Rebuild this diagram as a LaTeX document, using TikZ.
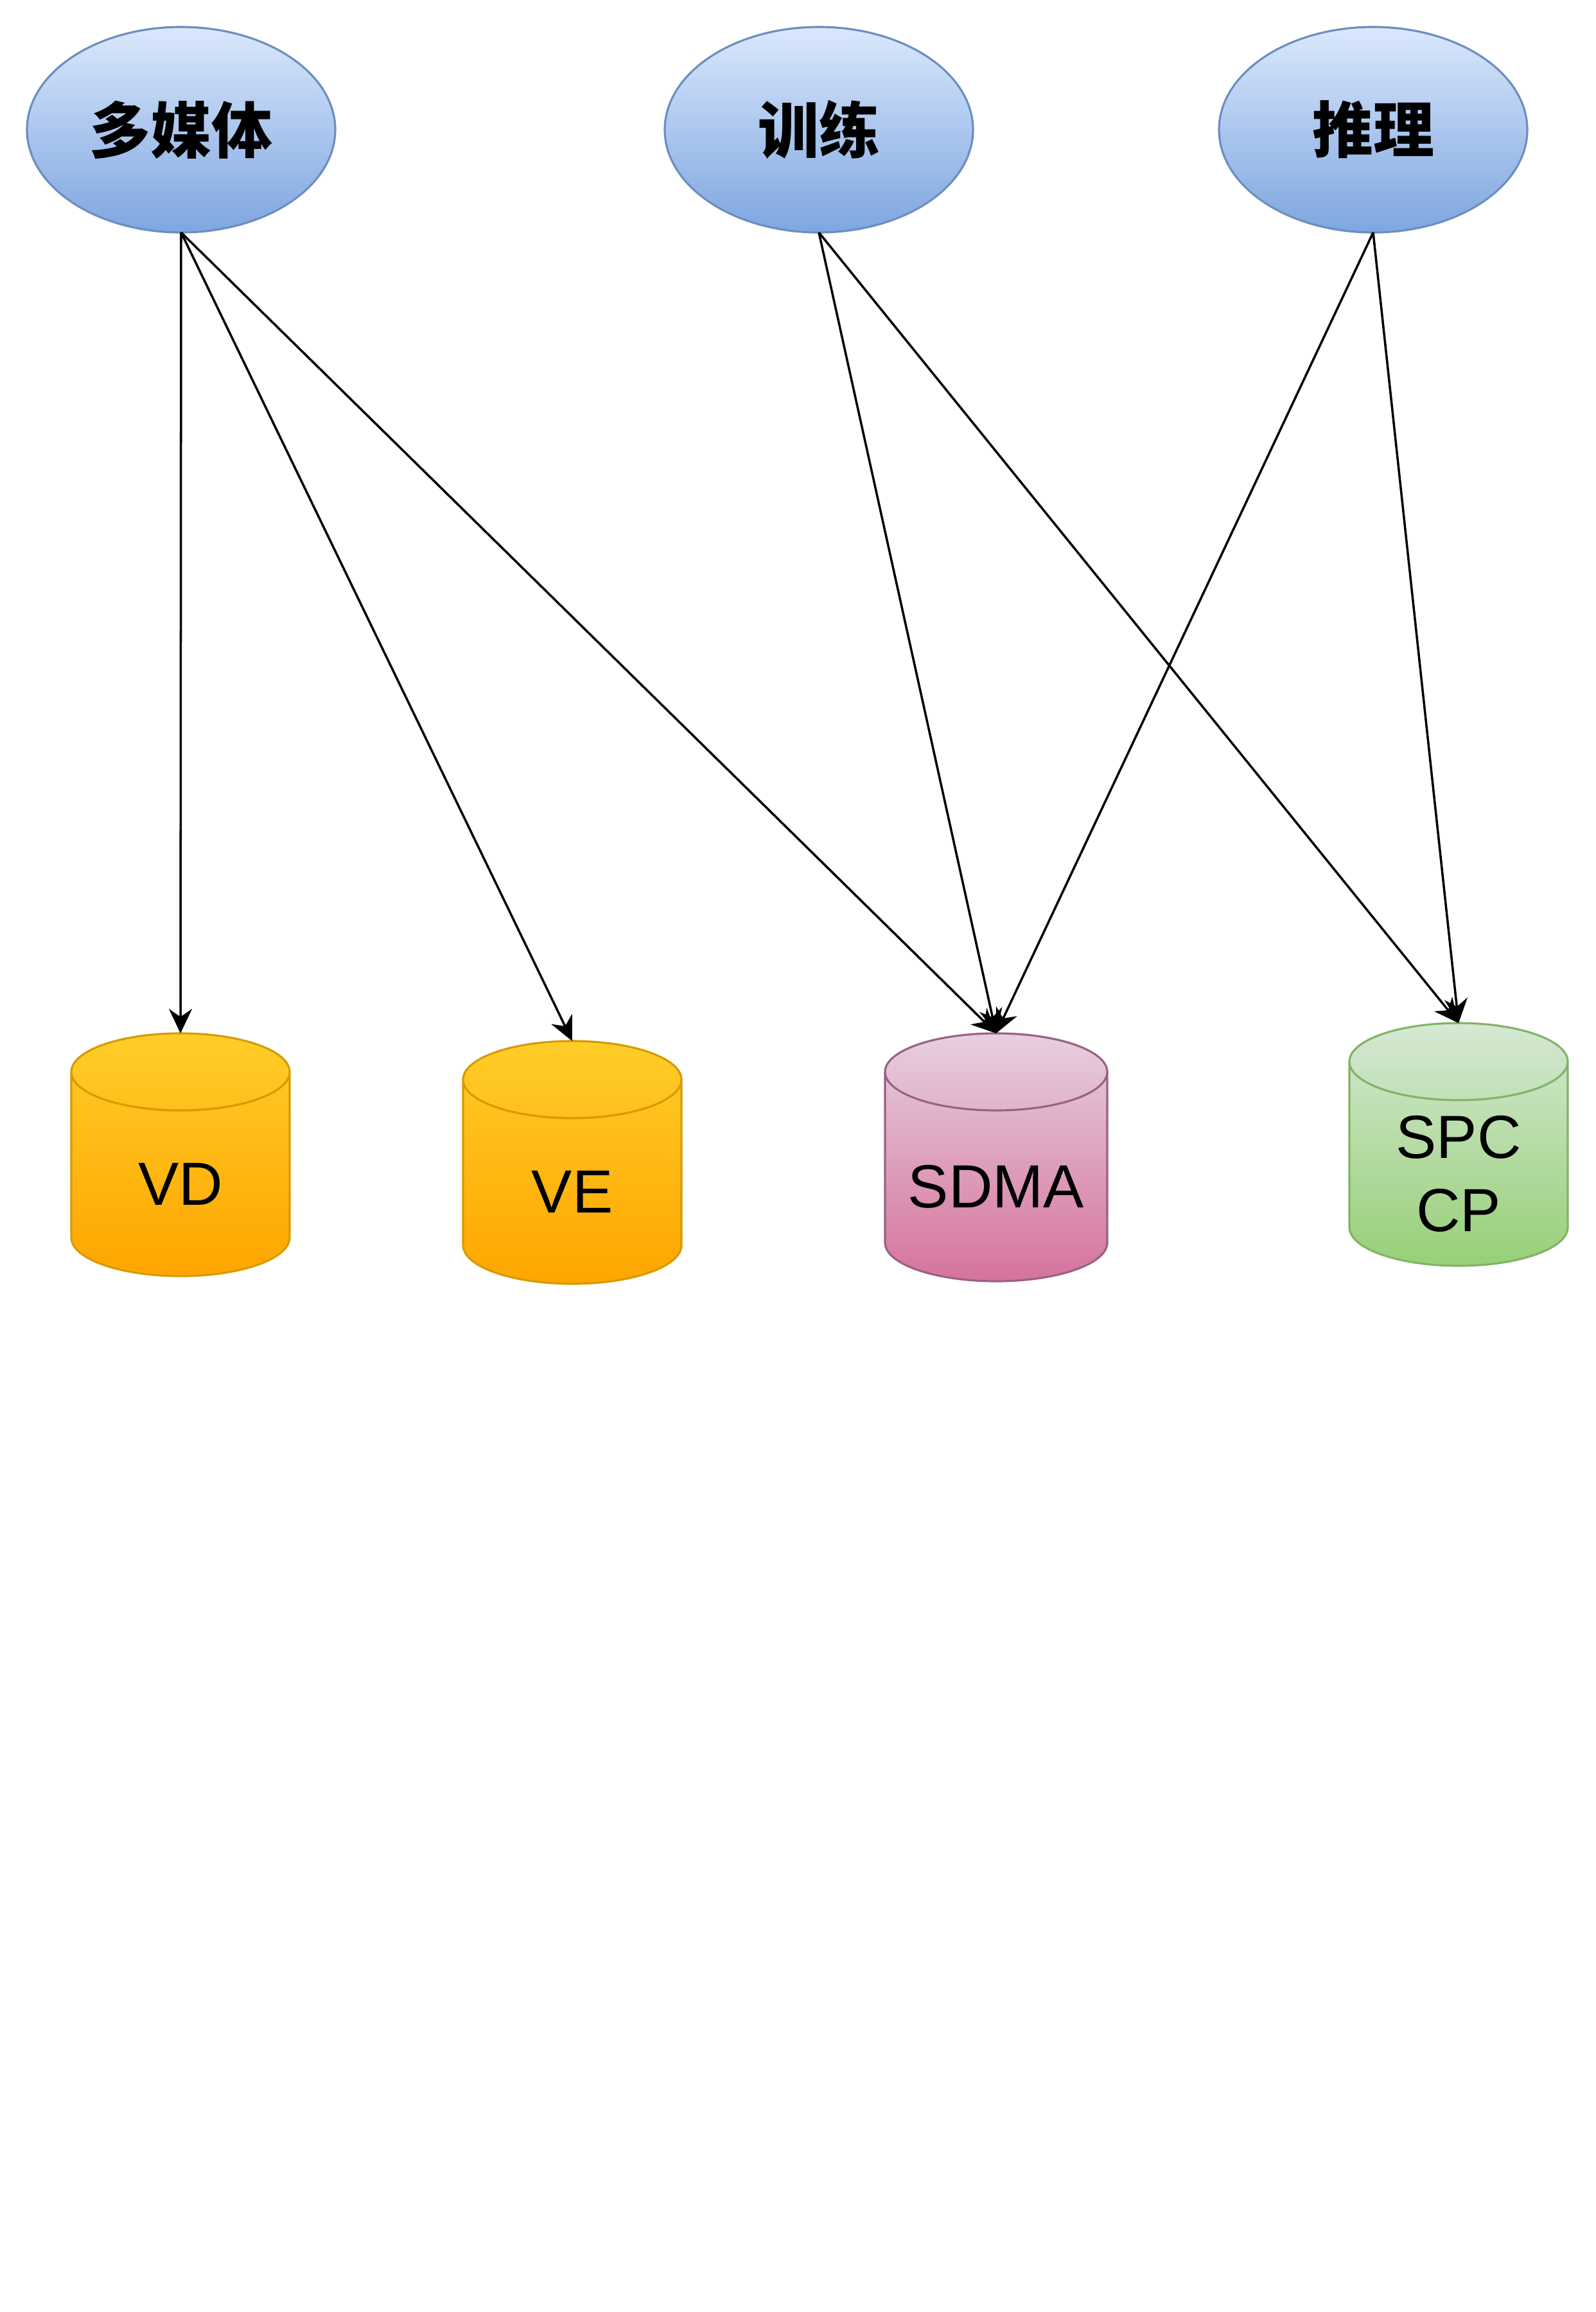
\documentclass[tikz,border=0pt]{standalone}
\usepackage{fontspec}
\setmainfont{Liberation Sans}
\newfontfamily\cjk{Noto Sans CJK SC}
\usepackage{xcolor}
\usepackage{tikz}
\usetikzlibrary{arrows.meta,shapes.geometric}
\definecolor{blueTop}{HTML}{DAE8FC}
\definecolor{blueBot}{HTML}{7EA6E0}
\definecolor{blueLine}{HTML}{6C8EBF}
\definecolor{orangeTop}{HTML}{FFCD28}
\definecolor{orangeBot}{HTML}{FFA500}
\definecolor{orangeLine}{HTML}{D79B00}
\definecolor{pinkTop}{HTML}{E6D0DE}
\definecolor{pinkBot}{HTML}{D5739D}
\definecolor{pinkLine}{HTML}{996185}
\definecolor{greenTop}{HTML}{D5E8D4}
\definecolor{greenBot}{HTML}{97D077}
\definecolor{greenLine}{HTML}{82B366}

% store drum: name, centre, x radius, height, colour, label
\newcommand{\dbstore}[6]{%
  \node[storebox,minimum width=2*#3cm,minimum height=#4cm] (#1) at #2 {};
  \fill[top color=#5Top,bottom color=#5Bot]
    ([yshift=-6mm]#1.north west) arc[start angle=180,end angle=0,x radius=#3,y radius=0.6]
    -- ([yshift=6mm]#1.south east) arc[start angle=0,end angle=-180,x radius=#3,y radius=0.6]
    -- cycle;
  \draw[#5Line,line width=0.9pt]
    ([yshift=-6mm]#1.north west) arc[start angle=180,end angle=0,x radius=#3,y radius=0.6]
    -- ([yshift=6mm]#1.south east) arc[start angle=0,end angle=-180,x radius=#3,y radius=0.6]
    -- cycle
    ([yshift=-6mm]#1.north west) arc[start angle=180,end angle=360,x radius=#3,y radius=0.6];
  \node[storetext] (#1-label) at ([yshift=-4.6mm]#1.center) {#6};
}

\begin{document}
\begin{tikzpicture}[
          task/.style={ellipse,draw=blueLine,line width=0.9pt,
                      top color=blueTop,bottom color=blueBot,
                      minimum width=4.8cm,minimum height=3.2cm,inner sep=0pt,
                      outer sep=0pt,font=\cjk\bfseries\fontsize{27}{32}\selectfont},
          storebox/.style={inner sep=0pt,outer sep=0pt},
          storetext/.style={align=center,inner sep=0pt,
                      font=\fontsize{27}{32.5}\selectfont},
          arr/.style={-{Stealth[length=0.38cm,width=0.36cm]},line width=1pt},
      ]
        \useasboundingbox (0,0) rectangle (24.84,-36);

        \node[task] (media) at (2.82,-2.02) {多媒体};
        \node[task] (train) at (12.75,-2.02) {训练};
        \node[task] (infer) at (21.38,-2.02) {推理};

        \dbstore{vd}{(2.81,-17.98)}{1.70}{3.78}{orange}{VD}
        \dbstore{ve}{(8.91,-18.10)}{1.70}{3.78}{orange}{VE}
        \dbstore{sdma}{(15.51,-18.02)}{1.73}{3.86}{pink}{SDMA}
        \dbstore{spc}{(22.71,-17.82)}{1.70}{3.78}{green}{SPC\\CP}

        \draw[arr] (media.south) -- (vd.north);
        \draw[arr] (media.south) -- (ve.north);
        \draw[arr] (media.south) -- (sdma.north);
        \draw[arr] (train.south) -- (sdma.north);
        \draw[arr] (train.south) -- (spc.north);
        \draw[arr] (infer.south) -- (sdma.north);
        \draw[arr] (infer.south) -- (spc.north);
      \end{tikzpicture}
\end{document}
